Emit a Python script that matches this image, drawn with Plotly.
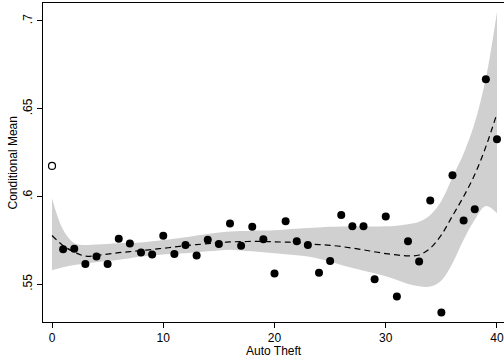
import plotly.graph_objects as go

# Observed conditional means (x = 1..40, filled markers)
x_obs = list(range(1, 41))
y_obs = [0.5700, 0.5702, 0.5616, 0.5658, 0.5616, 0.5759, 0.5732, 0.5681, 0.5669, 0.5776,
         0.5673, 0.5723, 0.5664, 0.5753, 0.5730, 0.5846, 0.5719, 0.5827, 0.5757, 0.5561,
         0.5859, 0.5745, 0.5724, 0.5565, 0.5633, 0.5895, 0.5831, 0.5831, 0.5529, 0.5886,
         0.5430, 0.5745, 0.5629, 0.5977, 0.5339, 0.6121, 0.5863, 0.5928, 0.6668, 0.6326]

# Hollow marker at x = 0
x_zero = [0]
y_zero = [0.6174]

# Local polynomial fit and confidence band
x_fit = list(range(0, 41))
y_fit = [0.5778, 0.5720, 0.5684, 0.5660, 0.5664, 0.5672, 0.5680, 0.5686, 0.5692, 0.5698,
         0.5705, 0.5712, 0.5720, 0.5726, 0.5731, 0.5737, 0.5741, 0.5743, 0.5744, 0.5744,
         0.5742, 0.5740, 0.5738, 0.5730, 0.5726, 0.5722, 0.5715, 0.5706, 0.5696, 0.5685,
         0.5675, 0.5667, 0.5662, 0.5667, 0.5705, 0.5781, 0.5890, 0.6000, 0.6125, 0.6284,
         0.6474]
ci_upper = [0.5990, 0.5810, 0.5734, 0.5724, 0.5726, 0.5730, 0.5734, 0.5736, 0.5738, 0.5745,
            0.5752, 0.5760, 0.5768, 0.5778, 0.5787, 0.5795, 0.5800, 0.5803, 0.5805, 0.5806,
            0.5808, 0.5812, 0.5816, 0.5820, 0.5824, 0.5827, 0.5829, 0.5829, 0.5829, 0.5829,
            0.5830, 0.5834, 0.5842, 0.5856, 0.5895, 0.5975, 0.6110, 0.6245, 0.6420, 0.6675,
            0.7053]
ci_lower = [0.5580, 0.5597, 0.5610, 0.5618, 0.5625, 0.5632, 0.5639, 0.5648, 0.5658, 0.5664,
            0.5670, 0.5674, 0.5677, 0.5683, 0.5688, 0.5693, 0.5696, 0.5693, 0.5688, 0.5683,
            0.5677, 0.5671, 0.5665, 0.5658, 0.5645, 0.5628, 0.5610, 0.5592, 0.5577, 0.5563,
            0.5546, 0.5525, 0.5502, 0.5489, 0.5487, 0.5522, 0.5620, 0.5753, 0.5867, 0.5946,
            0.5905]

x_tickvals = [0, 10, 20, 30, 40]
y_tickvals = [0.55, 0.6, 0.65, 0.7]
y_ticktext = [".55", ".6", ".65", ".7"]
x_title = "Auto Theft"
y_title = "Conditional Mean"

band_color = "#d0d0d0"
font_family = "Liberation Sans, Arial, sans-serif"

fig = go.Figure()
fig.add_trace(go.Scatter(x=x_fit, y=ci_lower, mode="lines", line=dict(width=0, color=band_color, shape="spline"),
                         hoverinfo="skip", showlegend=False))
fig.add_trace(go.Scatter(x=x_fit, y=ci_upper, mode="lines", line=dict(width=0, color=band_color, shape="spline"),
                         fill="tonexty", fillcolor=band_color, hoverinfo="skip", showlegend=False))
fig.add_trace(go.Scatter(x=x_fit, y=y_fit, mode="lines",
                         line=dict(color="black", width=1.2, dash="6px,4px", shape="spline"),
                         showlegend=False))
fig.add_trace(go.Scatter(x=x_obs, y=y_obs, mode="markers",
                         marker=dict(color="black", size=8, line=dict(width=0)), showlegend=False))
fig.add_trace(go.Scatter(x=x_zero, y=y_zero, mode="markers",
                         marker=dict(symbol="circle-open", color="black", size=7, line=dict(width=1.2)),
                         showlegend=False))

fig.update_layout(
    width=504, height=362,
    margin=dict(l=43, r=0, t=3, b=40, autoexpand=False),
    paper_bgcolor="white", plot_bgcolor="white",
    font=dict(family=font_family, color="black", size=12),
    xaxis=dict(range=[-0.81, 40.63], tickvals=x_tickvals, ticks="outside", ticklen=5, tickwidth=1,
               tickcolor="black", showline=True, linecolor="black", linewidth=1, mirror=True,
               showgrid=False, zeroline=False, tickfont=dict(size=12), automargin=False),
    yaxis=dict(range=[0.5285, 0.71025], tickvals=y_tickvals, ticktext=y_ticktext, ticks="outside",
               ticklen=5, tickwidth=1, tickcolor="black", showline=True, linecolor="black", linewidth=1,
               showgrid=False, zeroline=False, tickangle=-90, tickfont=dict(size=12), automargin=False),
    annotations=[
        dict(text=x_title, xref="paper", yref="paper", x=0.501, y=-0.09, xanchor="center",
             yanchor="middle", showarrow=False, font=dict(size=12)),
        dict(text=y_title, xref="paper", yref="paper", x=-0.0651, y=0.5, xanchor="center",
             yanchor="middle", textangle=-90, showarrow=False, font=dict(size=12)),
    ],
)

fig.write_html("out.html", config={"displayModeBar": False},
               post_script="document.body.style.margin='0';document.body.style.overflow='hidden';")
